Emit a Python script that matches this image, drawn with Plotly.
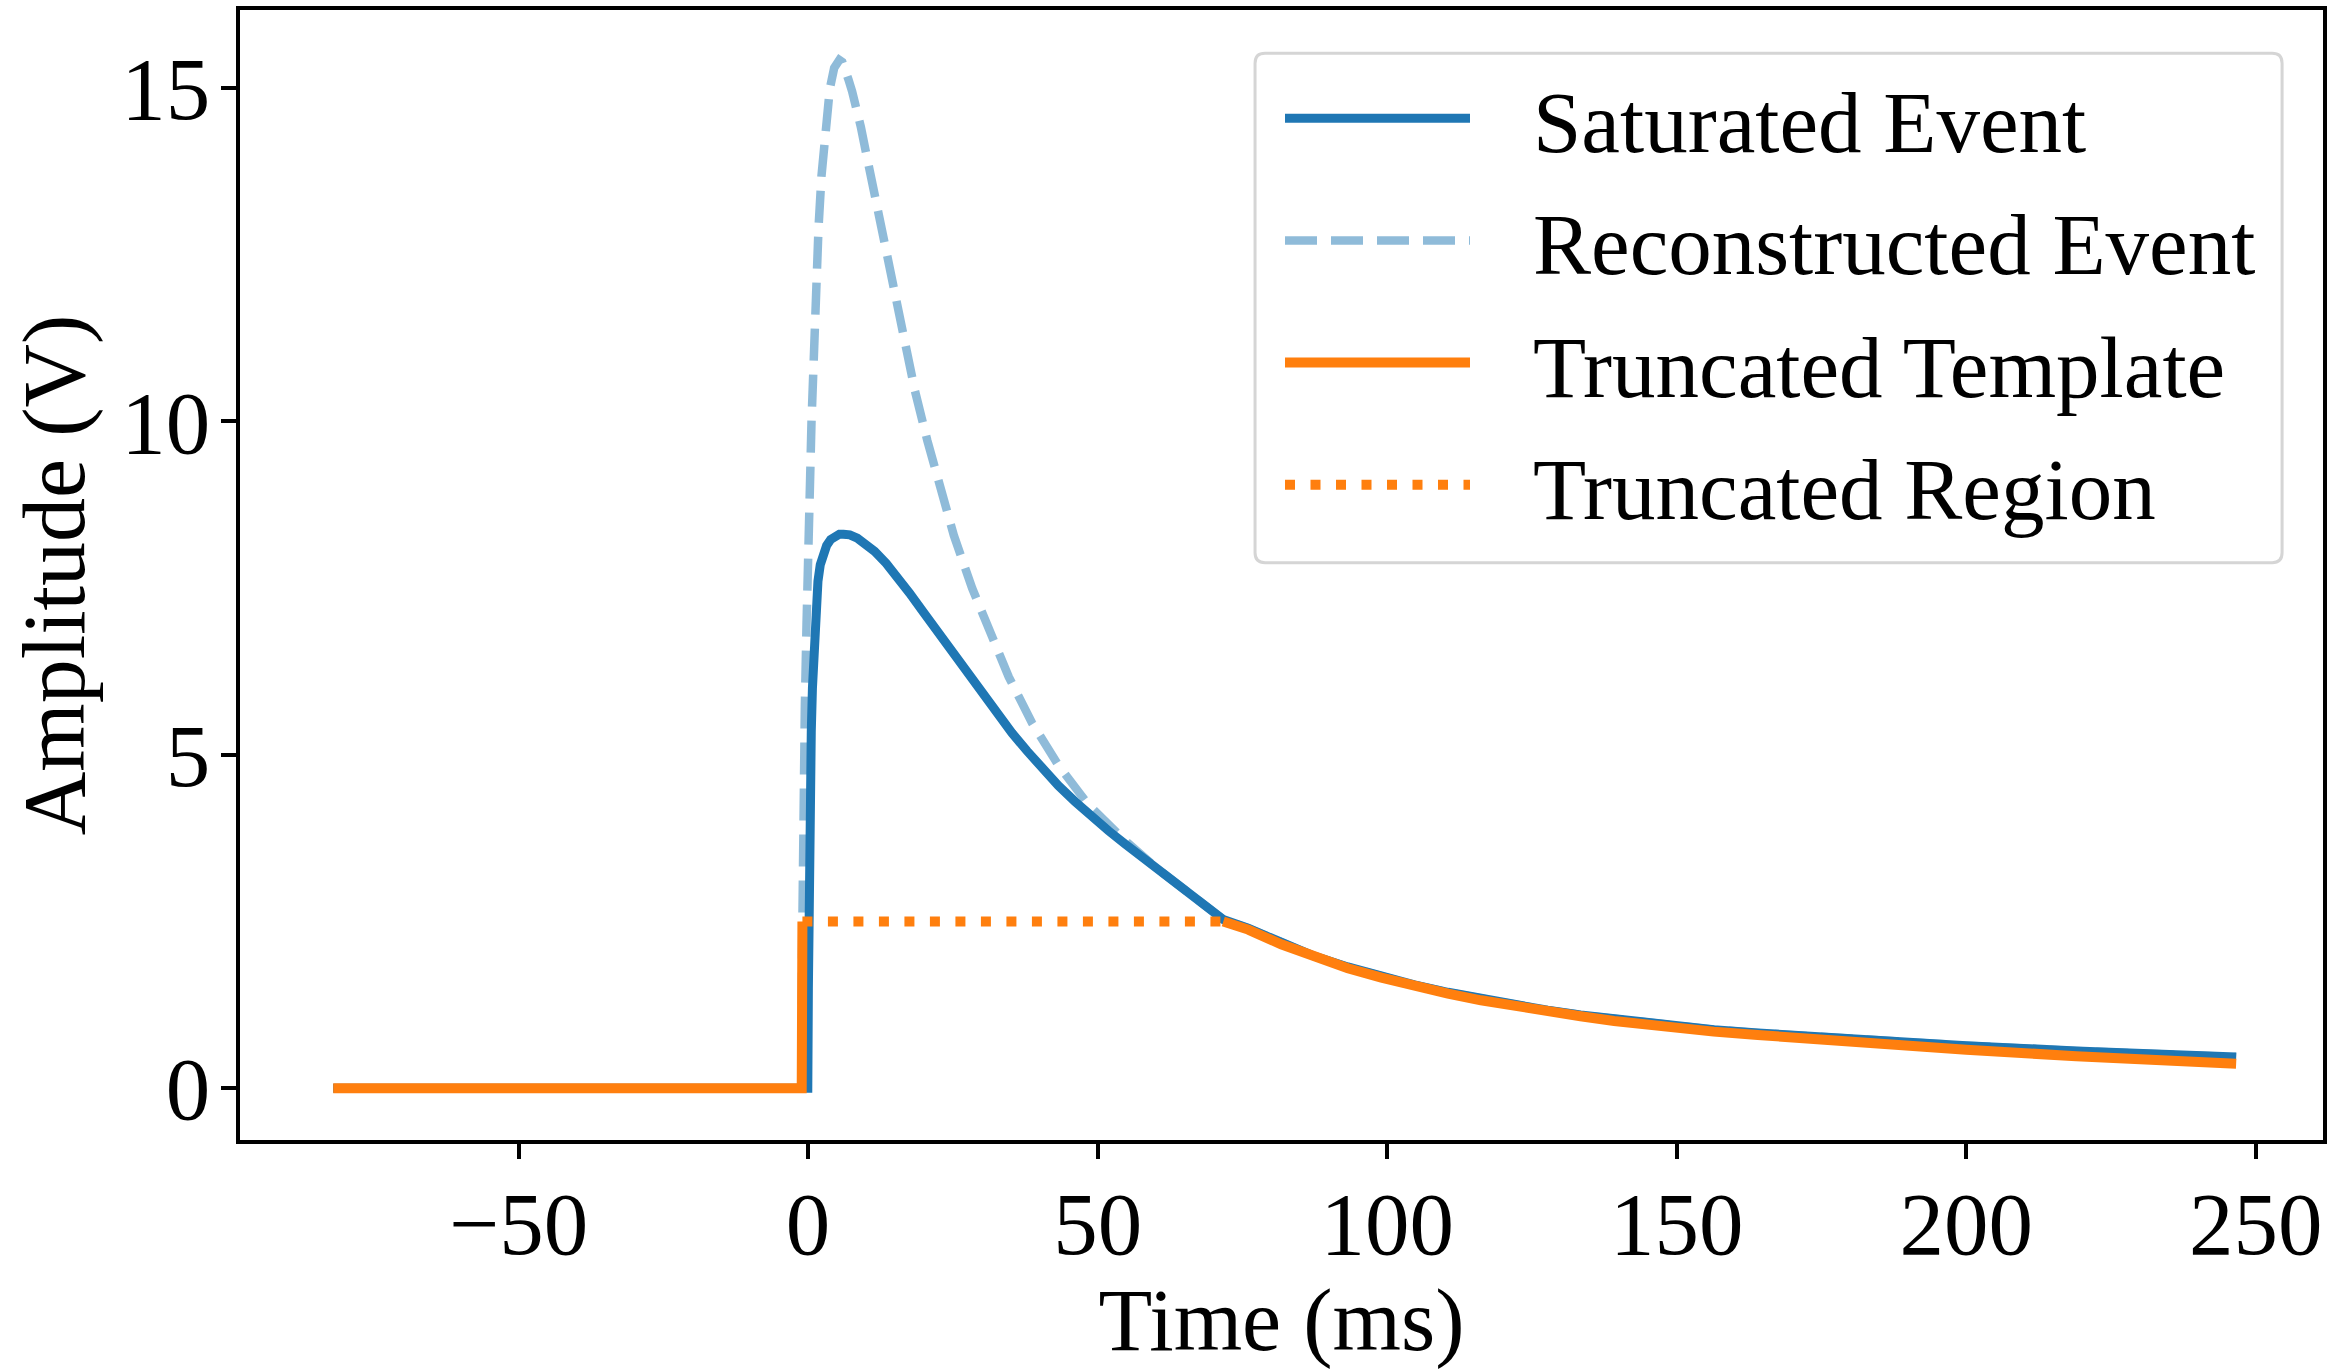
import plotly.graph_objects as go

# ---------------- data ----------------
# Saturated Event (solid dark blue)
sat_t = [-82.0, -0.05, 0.05, 0.12, 0.25, 0.4, 0.55, 0.75, 0.93, 1.15, 1.4, 1.7,
         2.1, 2.6, 3.2, 3.9, 4.7, 5.4, 6.1, 7.2, 8.5, 10.0, 11.5, 13.5, 15.5,
         17.5, 20.0, 23.0, 26.0, 28.3, 30.6, 33.0, 35.2, 37.8, 40.4, 43.2,
         46.1, 49.0, 51.9, 54.8, 57.6, 60.2, 62.8, 65.5, 68.5, 71.7, 76.0,
         81.7, 87.5, 93.2, 99.0, 104.7, 110.5, 116.2, 122.0, 127.7, 133.4,
         139.2, 144.9, 150.7, 156.4, 164.0, 184.5, 200.0, 219.0, 246.6]
sat_v = [0.0, 0.0, 1.5, 3.0, 4.2, 4.85, 5.35, 6.0, 6.5, 6.95, 7.3, 7.6,
         7.85, 8.02, 8.14, 8.23, 8.28, 8.31, 8.31, 8.30, 8.25, 8.16, 8.05, 7.87, 7.66,
         7.43, 7.13, 6.77, 6.42, 6.13, 5.86, 5.58, 5.33, 5.06, 4.80, 4.54,
         4.30, 4.07, 3.86, 3.66, 3.47, 3.29, 3.12, 2.94, 2.74, 2.53, 2.40,
         2.18, 1.98, 1.82, 1.68, 1.55, 1.44, 1.34, 1.25, 1.17, 1.10,
         1.04, 0.98, 0.93, 0.88, 0.83, 0.71, 0.64, 0.56, 0.47]

# Reconstructed Event (dashed light blue)
rec_t = [-82.0, -1.15, -1.05, -0.96, -0.79, -0.56, -0.27, 0.07, 0.19, 0.36, 0.59,
         0.76, 1.05, 1.45, 1.8, 2.31, 3.07, 3.75, 4.5, 5.0, 5.4, 5.9, 6.4, 6.96,
         7.6, 8.23, 9.1, 9.96, 11.39, 13.1, 14.83, 16.56, 18.45, 20.57, 22.88,
         25.17, 28.33, 31.2, 34.65, 38.67, 43.26, 48.43, 54.17, 59.92, 62.8,
         65.5, 68.5, 71.7, 76.0, 81.7, 87.5, 93.2, 99.0, 104.7, 110.5, 116.2,
         122.0, 127.7, 133.4, 139.2, 144.9, 150.7, 156.4, 164.0, 184.5, 200.0,
         219.0, 246.6]
rec_v = [0.0, 0.0, 2.0, 3.42, 4.6, 5.73, 6.96, 7.75, 8.44, 9.18, 10.0,
         10.55, 11.35, 12.2, 12.9, 13.68, 14.49, 14.99, 15.30, 15.40, 15.42, 15.39, 15.30, 15.13,
         14.95, 14.75, 14.42, 14.05, 13.43, 12.70, 11.93, 11.19, 10.46, 9.72, 8.98,
         8.29, 7.50, 6.86, 6.17, 5.48, 4.84, 4.25, 3.76, 3.32, 3.12,
         2.94, 2.74, 2.53, 2.40, 2.18, 1.98, 1.82, 1.68, 1.55, 1.44, 1.34,
         1.25, 1.17, 1.10, 1.04, 0.98, 0.93, 0.88, 0.83, 0.71, 0.64,
         0.56, 0.47]

# Truncated Template (solid orange); None marks the truncated gap
tpl_t = [-82.0, -1.1, -0.98, None, 71.7, 76.0, 81.7, 87.5, 93.2, 99.0, 104.7,
         110.5, 116.2, 122.0, 127.7, 133.4, 139.2, 144.9, 150.7, 156.4,
         164.0, 184.5, 200.0, 219.0, 246.6]
tpl_v = [0.0, 0.0, 2.5, None, 2.5, 2.38, 2.16, 1.96, 1.80, 1.66, 1.53,
         1.42, 1.32, 1.23, 1.15, 1.08, 1.01, 0.95, 0.90, 0.85,
         0.80, 0.66, 0.58, 0.48, 0.37]

# Truncated Region (dotted orange)
reg_t = [-0.98, 71.7]
reg_v = [2.5, 2.5]

x_ticks = [-50, 0, 50, 100, 150, 200, 250]
x_ticktext = ["\u221250", "0", "50", "100", "150", "200", "250"]
y_ticks = [0, 5, 10, 15]

series_names = ["Saturated Event", "Reconstructed Event",
                "Truncated Template", "Truncated Region"]

FONT = "Liberation Serif, Times New Roman, serif"
BLUE = "#1f77b4"
LIGHT = "rgba(31,119,180,0.5)"
ORANGE = "#ff7f0e"
GAP = "\u2002\u2006"  # spacing between legend line sample and label

fig = go.Figure()
fig.add_trace(go.Scatter(x=sat_t, y=sat_v, mode="lines", name=GAP + series_names[0],
                         line=dict(color=BLUE, width=9), legendgroup="a"))
fig.add_trace(go.Scatter(x=rec_t, y=rec_v, mode="lines", name=GAP + series_names[1],
                         line=dict(color=LIGHT, width=8.5, dash="32px,14px"), legendgroup="b"))
fig.add_trace(go.Scatter(x=tpl_t, y=tpl_v, mode="lines", name=GAP + series_names[2],
                         line=dict(color=ORANGE, width=10), connectgaps=False, legendgroup="c"))
fig.add_trace(go.Scatter(x=reg_t, y=reg_v, mode="lines", name=GAP + series_names[3],
                         line=dict(color=ORANGE, width=10, dash="10px,15.5px"), legendgroup="d"))

axis_common = dict(
    showline=True, linecolor="black", linewidth=4, mirror=True,
    ticks="outside", ticklen=15, tickwidth=4, tickcolor="black",
    showgrid=False, zeroline=False,
    tickfont=dict(family=FONT, size=89, color="black"),
)

# plot-area geometry (px) used to place the legend frame
L, R, T, B = 240, 3, 10, 212
W, H = 2330, 1369
PW, PH = W - L - R, H - T - B


def px_x(p):
    return (p - L) / PW


def px_y(p):
    return 1 - (p - T) / PH


bx0, bx1, by0, by1 = px_x(1257), px_x(2286), px_y(571), px_y(54)
rx, ry = 10 / PW, 10 / PH
frame = (f"M{bx0 + rx},{by1} L{bx1 - rx},{by1} Q{bx1},{by1} {bx1},{by1 - ry} "
         f"L{bx1},{by0 + ry} Q{bx1},{by0} {bx1 - rx},{by0} "
         f"L{bx0 + rx},{by0} Q{bx0},{by0} {bx0},{by0 + ry} "
         f"L{bx0},{by1 - ry} Q{bx0},{by1} {bx0 + rx},{by1} Z")

fig.update_layout(
    width=W, height=H,
    margin=dict(l=L, r=R, t=T, b=B),
    paper_bgcolor="white", plot_bgcolor="white",
    font=dict(family=FONT, color="black"),
    xaxis=dict(range=[-98.1, 261.6], tickvals=x_ticks, ticktext=x_ticktext,
               ticklabelstandoff=-12,
               title=dict(text="Time (ms)", font=dict(family=FONT, size=88, color="black"),
                          standoff=32),
               **axis_common),
    yaxis=dict(range=[-0.775, 16.17], tickvals=y_ticks,
               ticklabelstandoff=-7,
               title=dict(text="Amplitude (V)", font=dict(family=FONT, size=88, color="black"),
                          standoff=8),
               **axis_common),
    shapes=[dict(type="path", path=frame, xref="paper", yref="paper",
                 fillcolor="rgba(255,255,255,0.8)",
                 line=dict(color="#d5d5d5", width=3), layer="above")],
    legend=dict(
        x=px_x(1282), y=px_y(56), xanchor="left", yanchor="top",
        bgcolor="rgba(0,0,0,0)", borderwidth=0,
        font=dict(family=FONT, size=87, color="black"),
        itemwidth=185, tracegroupgap=6, traceorder="grouped",
    ),
    showlegend=True,
)

fig.write_html("out.html")
